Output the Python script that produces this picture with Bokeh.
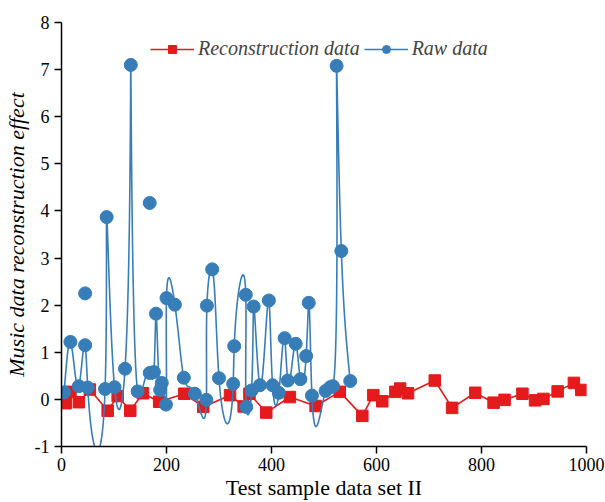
import numpy as np
from bokeh.plotting import figure
from bokeh.models import Range1d, Legend, LegendItem
from bokeh.embed import file_html
from bokeh.resources import INLINE

# Reconstruction data (red squares, straight segments)
rec_x = [8, 17, 33, 54, 88, 107, 131, 155, 186, 234, 270, 321, 347, 358, 390, 435, 484,
         530, 573, 594, 611, 636, 645, 660, 711, 744, 788, 823, 844, 878, 902, 918, 945, 976, 990]
rec_y = [-0.08, 0.16, -0.06, 0.21, -0.24, 0.07, -0.24, 0.13, -0.05, 0.12, -0.16, 0.09, -0.15,
         0.12, -0.28, 0.05, -0.14, 0.16, -0.35, 0.09, -0.04, 0.16, 0.23, 0.13, 0.40, -0.18,
         0.14, -0.07, -0.01, 0.12, -0.02, 0.01, 0.17, 0.35, 0.20]

# Raw data (blue circles joined by a smooth curve)
raw_x = [5, 17, 33, 45, 50, 83, 86, 101, 121, 132, 145, 168, 176, 180, 188, 191, 199, 200,
         216, 233, 254, 276, 277, 287, 300, 327, 329, 351, 352, 362, 366, 378, 395, 402, 414,
         425, 431, 446, 455, 466, 471, 477, 503, 512, 517, 524, 533, 550]
raw_y = [0.15, 1.22, 0.28, 1.15, 0.25, 0.22, 3.87, 0.26, 0.65, 7.10, 0.17, 0.56, 0.58, 1.82,
         0.20, 0.35, -0.11, 2.15, 2.01, 0.46, 0.12, -0.01, 1.99, 2.76, 0.45, 0.33, 1.13, 2.22,
         -0.16, 0.19, 1.97, 0.30, 2.10, 0.30, 0.14, 1.30, 0.40, 1.18, 0.43, 0.92, 2.05, 0.08,
         0.18, 0.26, 0.28, 7.08, 3.15, 0.39]
# Raw points shown without a connecting curve
raw_loose_x = [45, 168]
raw_loose_y = [2.25, 4.17]

x_ticks = [0, 200, 400, 600, 800, 1000]
y_ticks = [-1, 0, 1, 2, 3, 4, 5, 6, 7, 8]

RED = "#E41A1C"
BLUE = "#377EB8"
FONT = "Liberation Serif"


def natural_spline(t, v, per_seg=24):
    t = np.asarray(t, float)
    v = np.asarray(v, float)
    n = len(t)
    h = np.diff(t)
    A = np.zeros((n, n))
    r = np.zeros(n)
    A[0, 0] = 1.0
    A[-1, -1] = 1.0
    for i in range(1, n - 1):
        A[i, i - 1] = h[i - 1]
        A[i, i] = 2 * (h[i - 1] + h[i])
        A[i, i + 1] = h[i]
        r[i] = 6 * ((v[i + 1] - v[i]) / h[i] - (v[i] - v[i - 1]) / h[i - 1])
    M = np.linalg.solve(A, r)
    out = []
    for i in range(n - 1):
        s = np.linspace(t[i], t[i + 1], per_seg, endpoint=(i == n - 2))
        a = t[i + 1] - s
        b = s - t[i]
        hi = h[i]
        out.append(M[i] * a ** 3 / (6 * hi) + M[i + 1] * b ** 3 / (6 * hi)
                   + (v[i] / hi - M[i] * hi / 6) * a + (v[i + 1] / hi - M[i + 1] * hi / 6) * b)
    return np.concatenate(out)


# smooth connecting curve: parametric spline over chord length
X = np.asarray(raw_x, float)
Y = np.asarray(raw_y, float)
par = np.concatenate([[0.0], np.cumsum(np.hypot(np.diff(X), 6.0 * np.diff(Y)))])
curve_x = natural_spline(par, X)
curve_y = natural_spline(par, Y)

p = figure(width=605, height=502, output_backend="svg", toolbar_location=None,
           x_range=Range1d(0, 1000), y_range=Range1d(-1, 8),
           min_border_left=60, min_border_top=22, min_border_right=19, min_border_bottom=56)
p.outline_line_color = None
p.xgrid.visible = False
p.ygrid.visible = False
p.background_fill_color = "white"
p.border_fill_color = "white"

r_line = p.line(rec_x, rec_y, line_color=RED, line_width=1.6)
r_pts = p.scatter(rec_x, rec_y, marker="square", size=11.5, fill_color=RED, line_color=RED)
b_line = p.line(curve_x, curve_y, line_color=BLUE, line_width=1.6)
b_pts = p.scatter(raw_x, raw_y, marker="circle", size=13, fill_color=BLUE, line_color=BLUE)
p.scatter(raw_loose_x, raw_loose_y, marker="circle", size=13, fill_color=BLUE, line_color=BLUE)

p.xaxis.ticker = x_ticks
p.yaxis.ticker = y_ticks
p.xaxis.ticker.num_minor_ticks = 2
p.yaxis.ticker.num_minor_ticks = 2
p.yaxis.major_label_overrides = {-1: "-1"}
for ax in (p.xaxis[0], p.yaxis[0]):
    ax.axis_line_color = "black"
    ax.axis_line_width = 1.5
    ax.major_tick_line_color = "black"
    ax.minor_tick_line_color = "black"
    ax.major_tick_line_width = 1.5
    ax.minor_tick_line_width = 1.5
    ax.major_tick_in = 0
    ax.major_tick_out = 7
    ax.minor_tick_in = 0
    ax.minor_tick_out = 5
    ax.major_label_text_font = FONT
    ax.major_label_text_font_size = "18px"
    ax.major_label_text_color = "black"
    ax.axis_label_text_font = FONT
    ax.axis_label_text_color = "black"

p.xaxis.axis_label = "Test sample data set II"
p.xaxis.axis_label_text_font_size = "22px"
p.xaxis.axis_label_text_font_style = "normal"
p.xaxis.major_label_standoff = 4
p.xaxis.axis_label_standoff = 1

p.yaxis.axis_label = "Music data reconstruction effect"
p.yaxis.axis_label_text_font_size = "22px"
p.yaxis.axis_label_text_font_style = "italic"
p.yaxis.major_label_standoff = 5
p.yaxis.axis_label_standoff = 3

legend = Legend(items=[LegendItem(label="Reconstruction data", renderers=[r_line, r_pts]),
                       LegendItem(label="Raw data", renderers=[b_line, b_pts])],
                orientation="horizontal", location=(89, 386))
legend.border_line_color = None
legend.background_fill_alpha = 0
legend.label_text_font = FONT
legend.label_text_font_style = "italic"
legend.label_text_font_size = "20px"
legend.glyph_width = 44
legend.glyph_height = 20
legend.label_standoff = 4
legend.spacing = 4
legend.padding = 0
legend.margin = 0
p.add_layout(legend)

open("out.html", "w").write(file_html(p, INLINE))
